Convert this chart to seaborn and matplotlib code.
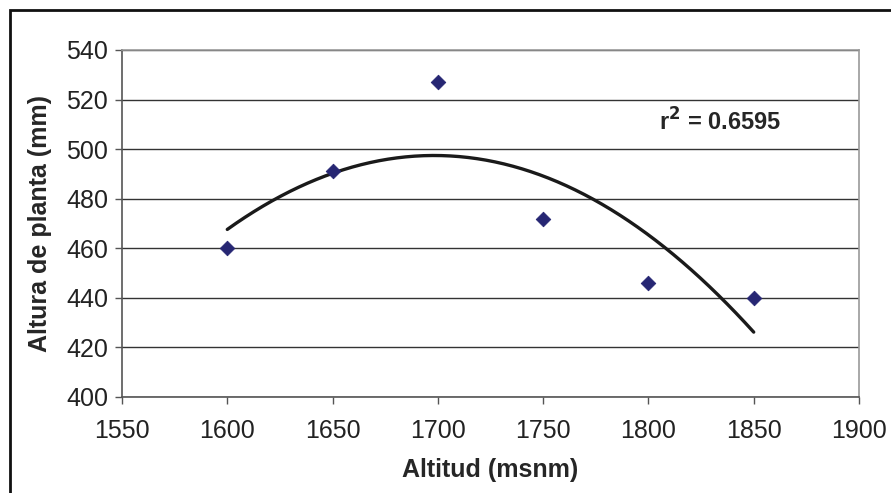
import numpy as np
import pandas as pd
import matplotlib
matplotlib.use("Agg")
import matplotlib.pyplot as plt
import seaborn as sns
from matplotlib.patches import Rectangle

altitud = [1600, 1650, 1700, 1750, 1800, 1850]
altura = [460, 491, 527, 472, 446, 440]
r2_label = "r$^2$ = 0.6595"

sns.set_style("white")
plt.rcParams['font.family'] = ['Liberation Sans', 'DejaVu Sans']
plt.rcParams['mathtext.default'] = 'bf'

df = pd.DataFrame({"Altitud": altitud, "Altura": altura})

fig = plt.figure(figsize=(8.91, 4.93), dpi=100)
ax = fig.add_axes([122/891, 1-397/493, (859-122)/891, (397-50)/493])

# trendline polinomica de orden 2 (como en excel)
coef = np.polyfit(df["Altitud"], df["Altura"], 2)
xs = np.linspace(1600, 1850, 60)
ax.plot(xs, np.polyval(coef, xs), color="#1a1a1a", lw=2.4, zorder=3)

sns.scatterplot(data=df, x="Altitud", y="Altura", marker="D", s=55,
                color="#262673", edgecolor="#262673", ax=ax, zorder=4)

ax.set_xlim(1550, 1900)
ax.set_ylim(400, 540)
ax.set_xticks(range(1550, 1901, 50))
ax.set_yticks(range(400, 541, 20))
ax.yaxis.grid(True, color="#333333", lw=1)
ax.set_axisbelow(True)
for s in ["top", "right"]:
    ax.spines[s].set_color("#999999")
    ax.spines[s].set_linewidth(1.2)
for s in ["left", "bottom"]:
    ax.spines[s].set_color("#555555")
    ax.spines[s].set_linewidth(1.2)
ax.tick_params(axis="both", direction="out", length=5, width=1, color="#555555",
               labelsize=18, labelcolor="#222222", pad=5, bottom=True, left=True)
ax.tick_params(axis="x", pad=11)
ax.set_xlabel("Altitud (msnm)", fontsize=18, fontweight="bold", labelpad=11)
ax.set_ylabel("Altura de planta (mm)", fontsize=18, fontweight="bold", labelpad=10)

ax.text(1834, 511, r2_label, fontsize=17, fontweight="bold", ha="center", va="center")

fig.patches.append(Rectangle((10/891, -0.1), 1.2, 1-10/493+0.1, transform=fig.transFigure,
                             fill=False, edgecolor="#111111", lw=2, clip_on=False))

fig.savefig("out.png", dpi=100)
